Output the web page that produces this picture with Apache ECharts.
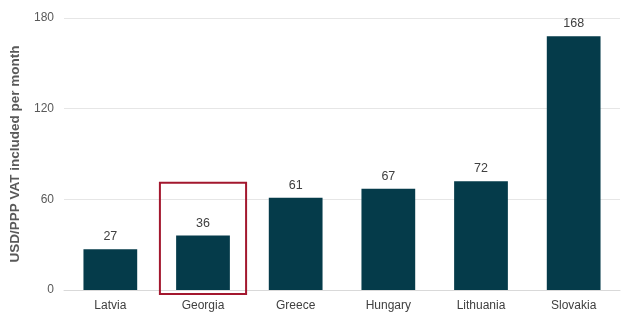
<!DOCTYPE html>
<html>
<head>
<meta charset="utf-8">
<script src="https://cdn.jsdelivr.net/npm/echarts@6/dist/echarts.min.js"></script>
<style>
  html, body { margin: 0; padding: 0; background: #fff; }
  #chart { width: 624px; height: 320px; }
</style>
</head>
<body>
<div id="chart"></div>
<script>
// Monthly cost, USD/PPP with VAT, by country
const countries = ['Latvia', 'Georgia', 'Greece', 'Hungary', 'Lithuania', 'Slovakia'];
const costs = [27, 36, 61, 67, 72, 168];
const yTicks = { min: 0, max: 180, interval: 60 };
const highlighted = 'Georgia';
const boxTopValue = 71;

const chart = echarts.init(document.getElementById('chart'));
const font = 'Liberation Sans, Arial, sans-serif';

chart.setOption({
  animation: false,
  grid: { left: 62, right: 4, top: 18, bottom: 30 },
  xAxis: {
    type: 'category',
    data: countries,
    axisLine: { lineStyle: { color: '#d9d9d9', width: 1 } },
    axisTick: { show: false },
    axisLabel: { color: '#404040', fontFamily: font, fontSize: 12, margin: 10 }
  },
  yAxis: {
    type: 'value',
    min: yTicks.min, max: yTicks.max, interval: yTicks.interval,
    name: 'USD/PPP VAT included per month',
    nameLocation: 'middle',
    nameGap: 42,
    nameTextStyle: { color: '#595959', fontFamily: font, fontSize: 13.5, fontWeight: 'bold' },
    axisLine: { show: false },
    axisTick: { show: false },
    axisLabel: { color: '#595959', fontFamily: font, fontSize: 12, margin: 10 },
    splitLine: { lineStyle: { color: '#e6e6e6', width: 1 } }
  },
  series: [{
    type: 'bar',
    data: costs,
    barWidth: '58%',
    itemStyle: { color: '#053b4a' },
    label: { show: true, position: 'top', color: '#404040', fontFamily: font, fontSize: 12.5, distance: 6 }
  }]
});

// Outline the highlighted country's column
const idx = countries.indexOf(highlighted);
const c0 = chart.convertToPixel({ gridIndex: 0 }, [idx, boxTopValue]);
const c1 = chart.convertToPixel({ gridIndex: 0 }, [idx + 1, 0]);
const band = c1[0] - c0[0];
const w = band * 0.93;
chart.setOption({
  graphic: [{
    type: 'rect',
    shape: { x: c0[0] - w / 2, y: c0[1], width: w, height: c1[1] - c0[1] + 4 },
    style: { fill: 'none', stroke: '#a3172e', lineWidth: 2 },
    z: 100
  }]
});
</script>
</body>
</html>
